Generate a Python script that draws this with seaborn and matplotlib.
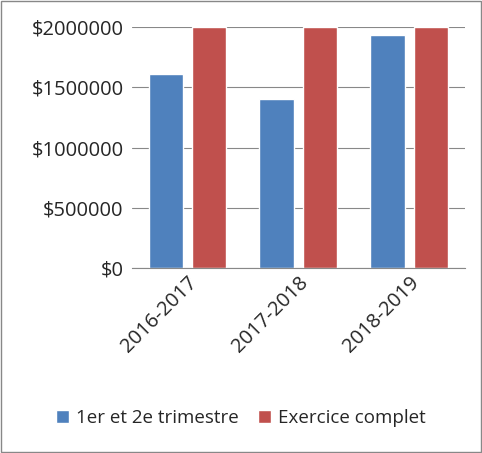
import matplotlib
matplotlib.use("Agg")
import matplotlib.pyplot as plt
import pandas as pd
import seaborn as sns
from matplotlib.ticker import FuncFormatter

years = ["2016-2017", "2017-2018", "2018-2019"]
series = ["1er et 2e trimestre", "Exercice complet"]
half_year = [1615000, 1400000, 1935000]
full_year = [2000000, 2000000, 2000000]

df = pd.DataFrame({
    "year": years * 2,
    "series": [series[0]] * 3 + [series[1]] * 3,
    "value": half_year + full_year,
})

sns.set_style("white")
plt.rcParams["font.family"] = ["Open Sans", "DejaVu Sans"]

fig = plt.figure(figsize=(4.82, 4.53), dpi=100)
ax = fig.add_axes([0.274, 0.408, 0.69, 0.532])
sns.barplot(data=df, x="year", y="value", hue="series",
            palette=["#4F81BD", "#C0504D"], saturation=1, width=0.78, gap=0.2,
            ax=ax, legend=True)
ax.set_ylim(0, 2000000)
ax.set_yticks([0, 500000, 1000000, 1500000, 2000000])
ax.yaxis.set_major_formatter(FuncFormatter(lambda v, p: f"${int(v)}"))
ax.grid(axis="y", color="#888888", lw=0.8)
ax.set_axisbelow(True)
for s in ["top", "right", "left"]:
    ax.spines[s].set_visible(False)
ax.spines["bottom"].set_color("#888888")
ax.set_xlabel("")
ax.set_ylabel("")
ax.tick_params(axis="y", labelsize=14.5, length=0, pad=6)
ax.tick_params(axis="x", labelsize=14.5, length=0)
plt.setp(ax.get_xticklabels(), rotation=45, ha="right", rotation_mode="anchor")
handles, labels = ax.get_legend_handles_labels()
ax.legend_.remove()
fig.legend(handles, labels, loc="center", bbox_to_anchor=(0.5, 0.078), ncol=2,
           frameon=False, fontsize=13.5, handlelength=0.7, handleheight=0.7,
           columnspacing=1.0, handletextpad=0.4)
fig.patches.append(plt.Rectangle((0.002, 0.002), 0.996, 0.996, transform=fig.transFigure,
                                 fill=False, edgecolor="#888888", lw=1))
fig.savefig("out.png", dpi=100)
